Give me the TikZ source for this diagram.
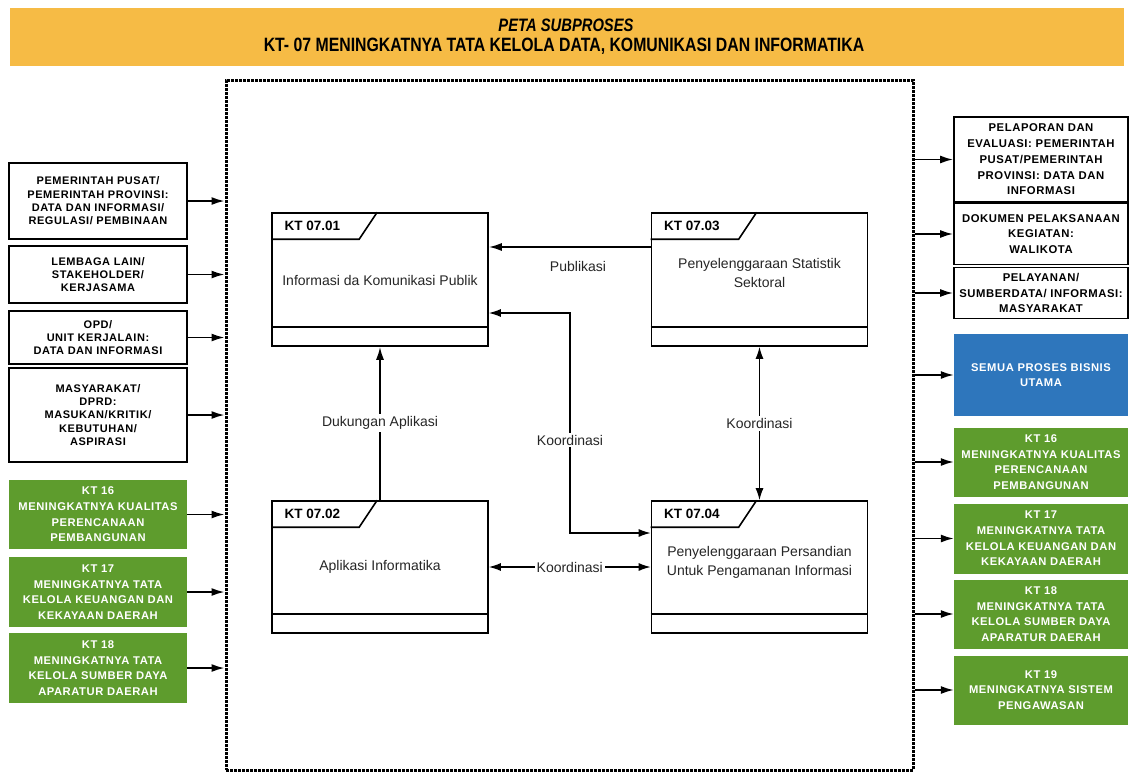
\documentclass[tikz,border=0pt]{standalone}
\usepackage{fontspec}
\setmainfont{Liberation Sans}
\newfontfamily\boxfont[LetterSpace=5]{Liberation Sans}
\newfontfamily\titlefont[FakeStretch=0.82]{Liberation Sans}
\usetikzlibrary{arrows.meta,calc}
\definecolor{banner}{RGB}{246,187,69}
\definecolor{kgreen}{RGB}{94,156,45}
\definecolor{kblue}{RGB}{46,118,188}
\begin{document}
\begin{tikzpicture}[x=1pt,y=-1pt,
  arr/.style={line width=1.7pt,-{Latex[length=13pt,width=8pt]}},
  darr/.style={line width=1.4pt,{Latex[length=12pt,width=8pt]}-{Latex[length=12pt,width=8pt]}},
  inbox/.style={draw=black,line width=1.8pt,fill=white,inner sep=0pt,align=center,minimum width=178pt,font=\boxfont\bfseries\fontsize{11}{13.3}\selectfont},
  outbox/.style={draw=black,line width=1.8pt,fill=white,inner sep=0pt,align=center,minimum width=174pt,font=\boxfont\bfseries\fontsize{11.3}{15.7}\selectfont},
  gbox/.style={fill=kgreen,text=white,inner sep=0pt,align=center,font=\boxfont\bfseries\fontsize{11.2}{15.7}\selectfont},
  bbox/.style={fill=kblue,text=white,inner sep=0pt,align=center,font=\boxfont\bfseries\fontsize{11.2}{15.7}\selectfont},
  pbox/.style={draw=black,line width=1.6pt,fill=white,inner sep=0pt,minimum width=216pt,minimum height=133pt},
  ptext/.style={font=\fontsize{14}{19}\selectfont,align=center,text=black!85},
  phead/.style={anchor=west,font=\bfseries\fontsize{13.5}{15}\selectfont},
  lab/.style={font=\fontsize{14}{16}\selectfont,fill=white,inner sep=2pt,text=black!85}
]
\useasboundingbox (0,0) rectangle (1130,774);
\fill[white] (0,0) rectangle (1130,774);

% banner
\node[fill=banner,minimum width=1114pt,minimum height=58pt,inner sep=0pt] (banner) at (567,37) {};
\node[font=\titlefont\bfseries\itshape\fontsize{18}{19}\selectfont] (t1) at (566,25) {PETA SUBPROSES};
\node[font=\titlefont\bfseries\fontsize{19.3}{20}\selectfont] (t2) at (564,46) {KT- 07 MENINGKATNYA TATA KELOLA DATA, KOMUNIKASI DAN INFORMATIKA};

% frame
\node[draw,line width=3pt,dash pattern=on 2.6pt off 1.4pt,minimum width=687pt,minimum height=690pt,inner sep=0pt] (frame) at (569.5,425) {};

% left boxes
\node[inbox,minimum height=76pt] (l1) at (98,201) {PEMERINTAH PUSAT/\\PEMERINTAH PROVINSI:\\DATA DAN INFORMASI/\\REGULASI/ PEMBINAAN};
\node[inbox,minimum height=57pt] (l2) at (98,274.5) {LEMBAGA LAIN/\\STAKEHOLDER/\\KERJASAMA};
\node[inbox,minimum height=53pt] (l3) at (98,337.5) {OPD/\\UNIT KERJALAIN:\\DATA DAN INFORMASI};
\node[inbox,minimum height=94pt] (l4) at (98,415) {MASYARAKAT/\\DPRD:\\MASUKAN/KRITIK/\\KEBUTUHAN/\\ASPIRASI};
\node[gbox,minimum width=178pt,minimum height=69pt] (l5) at (98,514.5) {KT 16\\MENINGKATNYA KUALITAS\\PERENCANAAN\\PEMBANGUNAN};
\node[gbox,minimum width=178pt,minimum height=70pt] (l6) at (98,592) {KT 17\\MENINGKATNYA TATA\\KELOLA KEUANGAN DAN\\KEKAYAAN DAERAH};
\node[gbox,minimum width=178pt,minimum height=70pt] (l7) at (98,668) {KT 18\\MENINGKATNYA TATA\\KELOLA SUMBER DAYA\\APARATUR DAERAH};

% right boxes
\node[outbox,minimum height=85pt] (r1) at (1041,159.5) {PELAPORAN DAN\\EVALUASI: PEMERINTAH\\PUSAT/PEMERINTAH\\PROVINSI: DATA DAN\\INFORMASI};
\node[outbox,minimum height=61pt] (r2) at (1041,234) {DOKUMEN PELAKSANAAN\\KEGIATAN:\\WALIKOTA};
\node[outbox,minimum height=51pt] (r3) at (1041,293) {PELAYANAN/\\SUMBERDATA/ INFORMASI:\\MASYARAKAT};
\node[bbox,minimum width=174pt,minimum height=82pt] (r4) at (1041,375) {SEMUA PROSES BISNIS\\UTAMA};
\node[gbox,minimum width=174pt,minimum height=69pt] (r5) at (1041,462) {KT 16\\MENINGKATNYA KUALITAS\\PERENCANAAN\\PEMBANGUNAN};
\node[gbox,minimum width=174pt,minimum height=70pt] (r6) at (1041,538.5) {KT 17\\MENINGKATNYA TATA\\KELOLA KEUANGAN DAN\\KEKAYAAN DAERAH};
\node[gbox,minimum width=174pt,minimum height=69pt] (r7) at (1041,614) {KT 18\\MENINGKATNYA TATA\\KELOLA SUMBER DAYA\\APARATUR DAERAH};
\node[gbox,minimum width=174pt,minimum height=69pt] (r8) at (1041,690) {KT 19\\MENINGKATNYA SISTEM\\PENGAWASAN};

\foreach \n in {l1,l2,l3,l4,l5,l6,l7} \draw[arr] (\n.east) -- (\n.east -| frame.west);
\foreach \n in {r1,r2,r3,r4,r5,r6,r7,r8} \draw[arr] (\n.west -| frame.east) -- (\n.west);

% process boxes
\node[pbox] (c1) at (380,279.5) {};
\node[pbox] (c3) at (759.5,279.5) {};
\node[pbox,minimum height=132pt] (c2) at (380,567) {};
\node[pbox,minimum height=132pt] (c4) at (759.5,567) {};
\foreach \c/\h in {c1/KT 07.01,c2/KT 07.02,c3/KT 07.03,c4/KT 07.04}{
  \draw[line width=1.6pt] ($(\c.north west)+(0,27)$) -- ++(88,0) -- ++(18,-27);
  \draw[line width=1.6pt] ($(\c.south west)+(0,-20)$) -- ($(\c.south east)+(0,-20)$);
  \node[phead] at ($(\c.north west)+(10,14)$) {\h};
}
\node[ptext] at (380,280) {Informasi da Komunikasi Publik};
\node[ptext] at (759.5,273) {Penyelenggaraan Statistik\\Sektoral};
\node[ptext] at (380,567) {Aplikasi Informatika};
\node[ptext] at (759.5,562) {Penyelenggaraan Persandian\\Untuk Pengamanan Informasi};

% connectors
\coordinate (ypub) at (0,247);
\draw[arr] (c3.west |- ypub) -- (c1.east |- ypub);
\node[lab,fill=none] at (578,266) {Publikasi};

\coordinate (kc1) at (570,313);
\coordinate (kc2) at (570,533);
\draw[darr] (c1.east |- kc1) -- (kc1) -- (kc2) -- (c4.west |- kc2);
\node[lab] at (570,440) {Koordinasi};

\draw[arr] (c2.north) -- (c1.south);
\node[lab] at (380,423) {Dukungan Aplikasi};

\draw[darr] (c2.east) -- node[lab]{Koordinasi} (c4.west);
\draw[darr] (c3.south) -- node[lab]{Koordinasi} (c4.north);
\end{tikzpicture}
\end{document}
